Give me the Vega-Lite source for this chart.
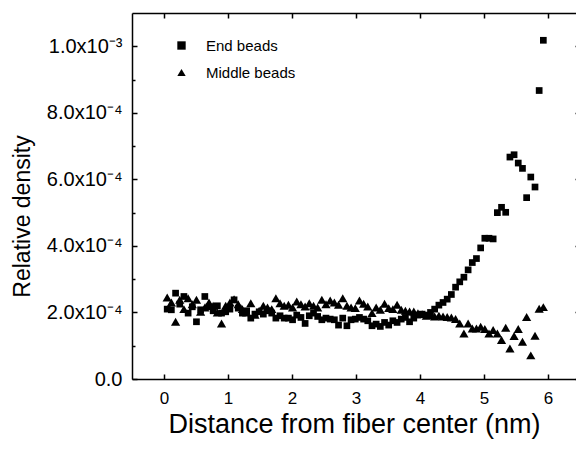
{
"$schema": "https://vega.github.io/schema/vega-lite/v6.json",
"width": 444, "height": 366,
"autosize": {"type": "none"},
"padding": {"left": 132, "top": 13, "right": 0, "bottom": 70},
"background": "white",
"config": {
  "view": {"stroke": null},
  "font": "Liberation Sans",
  "axis": {"domainColor": "black", "domainWidth": 1.5, "tickColor": "black", "tickWidth": 1.5, "labelColor": "black", "titleColor": "black", "labelFont": "Liberation Sans", "titleFont": "Liberation Sans", "grid": false, "titleFontWeight": "normal", "labelFlush": false, "labelOverlap": false}
},
"data": {"values": [
{"beads":"End beads","distance":0.050,"density":2.10e-4},{"beads":"End beads","distance":0.115,"density":2.08e-4},{"beads":"End beads","distance":0.181,"density":2.58e-4},{"beads":"End beads","distance":0.246,"density":2.25e-4},{"beads":"End beads","distance":0.311,"density":2.48e-4},{"beads":"End beads","distance":0.377,"density":1.98e-4},{"beads":"End beads","distance":0.442,"density":2.17e-4},{"beads":"End beads","distance":0.507,"density":1.72e-4},{"beads":"End beads","distance":0.572,"density":2.08e-4},{"beads":"End beads","distance":0.638,"density":2.48e-4},
{"beads":"End beads","distance":0.703,"density":2.17e-4},{"beads":"End beads","distance":0.768,"density":2.05e-4},{"beads":"End beads","distance":0.834,"density":2.20e-4},{"beads":"End beads","distance":0.899,"density":1.98e-4},{"beads":"End beads","distance":0.964,"density":2.02e-4},{"beads":"End beads","distance":1.030,"density":2.10e-4},{"beads":"End beads","distance":1.095,"density":2.38e-4},{"beads":"End beads","distance":1.160,"density":2.13e-4},{"beads":"End beads","distance":1.225,"density":1.98e-4},{"beads":"End beads","distance":1.291,"density":2.05e-4},
{"beads":"End beads","distance":1.356,"density":1.83e-4},{"beads":"End beads","distance":1.421,"density":1.95e-4},{"beads":"End beads","distance":1.487,"density":2.02e-4},{"beads":"End beads","distance":1.552,"density":1.95e-4},{"beads":"End beads","distance":1.617,"density":2.05e-4},{"beads":"End beads","distance":1.683,"density":1.98e-4},{"beads":"End beads","distance":1.748,"density":1.83e-4},{"beads":"End beads","distance":1.813,"density":1.90e-4},{"beads":"End beads","distance":1.878,"density":1.83e-4},{"beads":"End beads","distance":1.944,"density":1.83e-4},
{"beads":"End beads","distance":2.009,"density":1.78e-4},{"beads":"End beads","distance":2.074,"density":1.92e-4},{"beads":"End beads","distance":2.140,"density":1.85e-4},{"beads":"End beads","distance":2.205,"density":1.67e-4},{"beads":"End beads","distance":2.270,"density":1.90e-4},{"beads":"End beads","distance":2.336,"density":1.98e-4},{"beads":"End beads","distance":2.401,"density":1.88e-4},{"beads":"End beads","distance":2.466,"density":1.78e-4},{"beads":"End beads","distance":2.531,"density":1.83e-4},{"beads":"End beads","distance":2.597,"density":1.80e-4},
{"beads":"End beads","distance":2.662,"density":1.78e-4},{"beads":"End beads","distance":2.727,"density":1.62e-4},{"beads":"End beads","distance":2.793,"density":1.83e-4},{"beads":"End beads","distance":2.858,"density":1.60e-4},{"beads":"End beads","distance":2.923,"density":1.78e-4},{"beads":"End beads","distance":2.989,"density":1.80e-4},{"beads":"End beads","distance":3.054,"density":1.85e-4},{"beads":"End beads","distance":3.119,"density":1.80e-4},{"beads":"End beads","distance":3.184,"density":1.75e-4},{"beads":"End beads","distance":3.250,"density":1.60e-4},
{"beads":"End beads","distance":3.315,"density":1.65e-4},{"beads":"End beads","distance":3.380,"density":1.58e-4},{"beads":"End beads","distance":3.446,"density":1.70e-4},{"beads":"End beads","distance":3.511,"density":1.62e-4},{"beads":"End beads","distance":3.576,"density":1.75e-4},{"beads":"End beads","distance":3.642,"density":1.70e-4},{"beads":"End beads","distance":3.707,"density":1.80e-4},{"beads":"End beads","distance":3.772,"density":1.85e-4},{"beads":"End beads","distance":3.837,"density":1.72e-4},{"beads":"End beads","distance":3.903,"density":1.83e-4},
{"beads":"End beads","distance":3.968,"density":1.92e-4},{"beads":"End beads","distance":4.033,"density":1.95e-4},{"beads":"End beads","distance":4.099,"density":1.92e-4},{"beads":"End beads","distance":4.164,"density":2.00e-4},{"beads":"End beads","distance":4.229,"density":2.10e-4},{"beads":"End beads","distance":4.295,"density":2.22e-4},{"beads":"End beads","distance":4.360,"density":2.30e-4},{"beads":"End beads","distance":4.425,"density":2.40e-4},{"beads":"End beads","distance":4.490,"density":2.54e-4},{"beads":"End beads","distance":4.556,"density":2.76e-4},
{"beads":"End beads","distance":4.621,"density":2.92e-4},{"beads":"End beads","distance":4.686,"density":3.06e-4},{"beads":"End beads","distance":4.752,"density":3.28e-4},{"beads":"End beads","distance":4.817,"density":3.50e-4},{"beads":"End beads","distance":4.882,"density":3.62e-4},{"beads":"End beads","distance":4.948,"density":3.94e-4},{"beads":"End beads","distance":5.013,"density":4.23e-4},{"beads":"End beads","distance":5.078,"density":4.23e-4},{"beads":"End beads","distance":5.143,"density":4.21e-4},{"beads":"End beads","distance":5.209,"density":5.00e-4},
{"beads":"End beads","distance":5.274,"density":5.16e-4},{"beads":"End beads","distance":5.339,"density":5.01e-4},{"beads":"End beads","distance":5.405,"density":6.67e-4},{"beads":"End beads","distance":5.470,"density":6.74e-4},{"beads":"End beads","distance":5.535,"density":6.49e-4},{"beads":"End beads","distance":5.601,"density":6.33e-4},{"beads":"End beads","distance":5.666,"density":5.45e-4},{"beads":"End beads","distance":5.731,"density":6.07e-4},{"beads":"End beads","distance":5.797,"density":5.77e-4},{"beads":"End beads","distance":5.862,"density":8.67e-4},
{"beads":"End beads","distance":5.927,"density":1.018e-3},
{"beads":"Middle beads","distance":0.050,"density":2.45e-4},{"beads":"Middle beads","distance":0.115,"density":2.30e-4},{"beads":"Middle beads","distance":0.181,"density":1.72e-4},{"beads":"Middle beads","distance":0.246,"density":2.38e-4},{"beads":"Middle beads","distance":0.311,"density":2.10e-4},{"beads":"Middle beads","distance":0.377,"density":2.43e-4},{"beads":"Middle beads","distance":0.442,"density":2.25e-4},{"beads":"Middle beads","distance":0.507,"density":2.38e-4},{"beads":"Middle beads","distance":0.572,"density":2.02e-4},{"beads":"Middle beads","distance":0.638,"density":2.15e-4},
{"beads":"Middle beads","distance":0.703,"density":2.30e-4},{"beads":"Middle beads","distance":0.768,"density":2.20e-4},{"beads":"Middle beads","distance":0.834,"density":2.00e-4},{"beads":"Middle beads","distance":0.899,"density":1.67e-4},{"beads":"Middle beads","distance":0.964,"density":2.20e-4},{"beads":"Middle beads","distance":1.030,"density":2.30e-4},{"beads":"Middle beads","distance":1.095,"density":2.40e-4},{"beads":"Middle beads","distance":1.160,"density":2.25e-4},{"beads":"Middle beads","distance":1.225,"density":2.10e-4},{"beads":"Middle beads","distance":1.291,"density":2.00e-4},
{"beads":"Middle beads","distance":1.356,"density":2.28e-4},{"beads":"Middle beads","distance":1.421,"density":1.93e-4},{"beads":"Middle beads","distance":1.487,"density":2.05e-4},{"beads":"Middle beads","distance":1.552,"density":2.20e-4},{"beads":"Middle beads","distance":1.617,"density":2.15e-4},{"beads":"Middle beads","distance":1.683,"density":2.10e-4},{"beads":"Middle beads","distance":1.748,"density":2.43e-4},{"beads":"Middle beads","distance":1.813,"density":2.28e-4},{"beads":"Middle beads","distance":1.878,"density":2.20e-4},{"beads":"Middle beads","distance":1.944,"density":2.23e-4},
{"beads":"Middle beads","distance":2.009,"density":2.15e-4},{"beads":"Middle beads","distance":2.074,"density":2.33e-4},{"beads":"Middle beads","distance":2.140,"density":2.25e-4},{"beads":"Middle beads","distance":2.205,"density":2.18e-4},{"beads":"Middle beads","distance":2.270,"density":2.28e-4},{"beads":"Middle beads","distance":2.336,"density":2.20e-4},{"beads":"Middle beads","distance":2.401,"density":2.15e-4},{"beads":"Middle beads","distance":2.466,"density":2.38e-4},{"beads":"Middle beads","distance":2.531,"density":2.25e-4},{"beads":"Middle beads","distance":2.597,"density":2.36e-4},
{"beads":"Middle beads","distance":2.662,"density":2.30e-4},{"beads":"Middle beads","distance":2.727,"density":2.23e-4},{"beads":"Middle beads","distance":2.793,"density":2.43e-4},{"beads":"Middle beads","distance":2.858,"density":2.20e-4},{"beads":"Middle beads","distance":2.923,"density":2.15e-4},{"beads":"Middle beads","distance":2.989,"density":2.13e-4},{"beads":"Middle beads","distance":3.054,"density":2.36e-4},{"beads":"Middle beads","distance":3.119,"density":2.26e-4},{"beads":"Middle beads","distance":3.184,"density":2.18e-4},{"beads":"Middle beads","distance":3.250,"density":1.98e-4},
{"beads":"Middle beads","distance":3.315,"density":2.15e-4},{"beads":"Middle beads","distance":3.380,"density":2.08e-4},{"beads":"Middle beads","distance":3.446,"density":2.26e-4},{"beads":"Middle beads","distance":3.511,"density":2.13e-4},{"beads":"Middle beads","distance":3.576,"density":2.10e-4},{"beads":"Middle beads","distance":3.642,"density":2.23e-4},{"beads":"Middle beads","distance":3.707,"density":2.08e-4},{"beads":"Middle beads","distance":3.772,"density":2.05e-4},{"beads":"Middle beads","distance":3.837,"density":2.03e-4},{"beads":"Middle beads","distance":3.903,"density":2.03e-4},
{"beads":"Middle beads","distance":3.968,"density":1.98e-4},{"beads":"Middle beads","distance":4.033,"density":1.95e-4},{"beads":"Middle beads","distance":4.099,"density":1.90e-4},{"beads":"Middle beads","distance":4.164,"density":1.92e-4},{"beads":"Middle beads","distance":4.229,"density":1.88e-4},{"beads":"Middle beads","distance":4.295,"density":1.90e-4},{"beads":"Middle beads","distance":4.360,"density":1.88e-4},{"beads":"Middle beads","distance":4.425,"density":1.86e-4},{"beads":"Middle beads","distance":4.490,"density":1.85e-4},{"beads":"Middle beads","distance":4.556,"density":1.80e-4},
{"beads":"Middle beads","distance":4.621,"density":1.67e-4},{"beads":"Middle beads","distance":4.686,"density":1.37e-4},{"beads":"Middle beads","distance":4.752,"density":1.67e-4},{"beads":"Middle beads","distance":4.817,"density":1.52e-4},{"beads":"Middle beads","distance":4.882,"density":1.52e-4},{"beads":"Middle beads","distance":4.948,"density":1.57e-4},{"beads":"Middle beads","distance":5.013,"density":1.50e-4},{"beads":"Middle beads","distance":5.078,"density":1.37e-4},{"beads":"Middle beads","distance":5.143,"density":1.47e-4},{"beads":"Middle beads","distance":5.209,"density":1.37e-4},
{"beads":"Middle beads","distance":5.274,"density":1.17e-4},{"beads":"Middle beads","distance":5.339,"density":1.54e-4},{"beads":"Middle beads","distance":5.405,"density":0.92e-4},{"beads":"Middle beads","distance":5.470,"density":1.29e-4},{"beads":"Middle beads","distance":5.535,"density":1.50e-4},{"beads":"Middle beads","distance":5.601,"density":1.12e-4},{"beads":"Middle beads","distance":5.666,"density":1.86e-4},{"beads":"Middle beads","distance":5.731,"density":0.71e-4},{"beads":"Middle beads","distance":5.797,"density":1.30e-4},{"beads":"Middle beads","distance":5.862,"density":2.11e-4},
{"beads":"Middle beads","distance":5.927,"density":2.16e-4}
]},
"layer": [
{
  "transform": [{"filter": "datum.beads === 'End beads'"}],
  "mark": {"type": "point", "filled": true, "opacity": 1, "color": "black", "size": 45},
  "encoding": {
    "x": {"field": "distance", "type": "quantitative", "scale": {"domain": [-0.5, 6.4375], "nice": false, "zero": false},
      "axis": {"values": [0,0.5,1,1.5,2,2.5,3,3.5,4,4.5,5,5.5,6], "format": "d", "ticks": false,
        "grid": true, "gridColor": "black", "gridOpacity": 1, "gridWidth": 1.5,
        "gridDash": {"condition": {"test": "datum.value % 1 !== 0", "value": [3, 360, 3, 2000]}, "value": [5, 356, 5, 2000]},
        "labelExpr": "datum.value % 1 !== 0 ? '' : datum.label",
        "labelPadding": 11, "labelFontSize": 17, "title": "Distance from fiber center (nm)", "titleFontSize": 27, "titlePadding": 5}},
    "y": {"field": "density", "type": "quantitative", "scale": {"domain": [0, 0.0011], "nice": false, "zero": false},
      "axis": {"values": [0, 0.0001, 0.0002, 0.0003, 0.0004, 0.0005, 0.0006, 0.0007, 0.0008, 0.0009, 0.001], "ticks": false,
        "grid": true, "gridColor": "black", "gridOpacity": 1, "gridWidth": 1.5,
        "gridDash": {"condition": {"test": "round(datum.value*1e4) % 2 === 1", "value": [3, 2000]}, "value": [5, 438, 1, 2000]},
        "labelPadding": 10, "labelFontSize": 20,
        "labelExpr": "round(datum.value*1e4) % 2 === 1 ? '' : (datum.value < 1e-9 ? '0.0' : (datum.value > 9.5e-4 ? '1.0x10⁻³' : format(datum.value*1e4, '.1f') + 'x10⁻⁴'))",
        "title": "Relative density", "titleFontSize": 23, "titlePadding": 12, "titleY": 203}},
    "shape": {"field": "beads", "type": "nominal", "scale": {"domain": ["End beads", "Middle beads"], "range": ["square", "triangle-up"]},
      "legend": {"title": null, "orient": "none", "legendX": 42, "legendY": 25, "padding": 0, "labelFontSize": 15, "labelFont": "Liberation Sans", "labelColor": "black", "symbolFillColor": "black", "symbolStrokeWidth": 0, "symbolSize": 70, "rowPadding": 11, "labelOffset": 17}}
  }
},
{
  "transform": [{"filter": "datum.beads === 'Middle beads'"}],
  "mark": {"type": "point", "filled": true, "opacity": 1, "color": "black", "size": 85},
  "encoding": {
    "x": {"field": "distance", "type": "quantitative",
      "axis": {"values": [0,1,2,3,4,5,6], "ticks": false, "labels": false, "title": null}},
    "y": {"field": "density", "type": "quantitative",
      "axis": {"offset": 4, "values": [0, 0.0002, 0.0004, 0.0006, 0.0008, 0.001], "ticks": false, "labels": false, "title": null}},
    "shape": {"field": "beads", "type": "nominal"}
  }
}
],
"resolve": {"axis": {"x": "independent", "y": "independent"}}
}
